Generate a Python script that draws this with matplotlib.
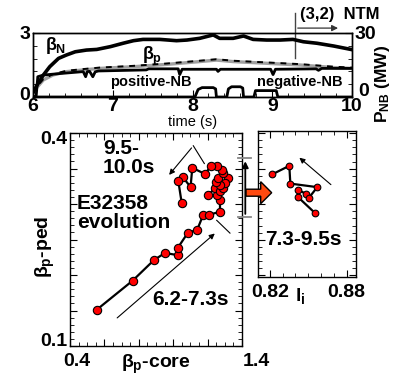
import matplotlib
matplotlib.use("Agg")
import matplotlib.pyplot as plt
import numpy as np
from matplotlib.ticker import MultipleLocator
from matplotlib.transforms import ScaledTranslation
from matplotlib.patches import FancyArrow

plt.rcParams['font.family'] = ['Liberation Sans', 'DejaVu Sans']
plt.rcParams['font.weight'] = 'bold'
plt.rcParams['mathtext.fontset'] = 'custom'
plt.rcParams['mathtext.rm'] = 'Liberation Sans:bold'
plt.rcParams['mathtext.it'] = 'Liberation Sans:bold'
plt.rcParams['mathtext.bf'] = 'Liberation Sans:bold'
plt.rcParams['axes.linewidth'] = 1.0

# ---------------- data: time traces ----------------
betaN_t = [6.0, 6.05, 6.13, 6.21, 6.32, 6.42, 6.53, 6.67, 6.80, 6.97, 7.13, 7.26, 7.38,
           7.59, 7.80, 7.93, 8.09, 8.26, 8.34, 8.51, 8.64, 8.76, 8.93, 9.10, 9.26,
           9.39, 9.56, 9.77, 10.0]
betaN = [0.2, 0.55, 1.03, 1.42, 1.81, 1.97, 2.12, 2.20, 2.23, 2.36, 2.52, 2.64, 2.70,
         2.70, 2.64, 2.67, 2.75, 2.91, 2.75, 2.75, 2.86, 2.70, 2.67, 2.67, 2.70,
         2.59, 2.52, 2.39, 2.22]

betap_t = [6.0, 6.05, 6.13, 6.25, 6.42, 6.63, 6.84, 7.26, 7.68, 8.09, 8.30, 8.51,
           8.93, 9.35, 9.77, 10.0]
betap = [0.15, 0.45, 0.80, 1.03, 1.19, 1.27, 1.34, 1.42, 1.53, 1.66, 1.73, 1.66,
         1.58, 1.50, 1.38, 1.34]

pos_nb_t = [6.0, 6.04, 6.06, 6.13, 6.34, 6.63, 6.66, 6.68, 6.71, 6.75, 6.78, 6.82,
            7.42, 7.45, 7.82, 7.84, 7.87, 8.30, 8.32, 8.35, 8.98, 9.01, 9.04, 9.55,
            9.58, 9.62, 10.0]
pos_nb = [0.0, 0.5, 9.5, 10.3, 11.0, 11.9, 9.5, 11.9, 12.0, 9.5, 11.8, 12.2,
          12.7, 13.2, 13.2, 10.5, 13.0, 13.0, 12.0, 13.0, 13.0, 10.5, 13.0, 13.2,
          12.5, 13.4, 13.4]

neg_nb_t = [6.0, 8.03, 8.07, 8.12, 8.26, 8.29, 8.30, 8.43, 8.45, 8.49, 8.60, 8.63,
            8.64, 8.77, 8.79, 9.05, 9.07, 10.0]
neg_nb = [0.0, 0.0, 3.5, 4.4, 4.4, 3.8, 0.0, 0.0, 3.8, 4.8, 4.8, 4.2,
          0.0, 0.0, 3.0, 3.0, 0.0, 0.0]

# ---------------- data: beta_p evolution ----------------
bp_core = [0.555, 0.764, 0.888, 0.952, 1.026, 1.026, 1.084, 1.140, 1.175, 1.210,
           1.272, 1.272, 1.252, 1.204, 1.243, 1.272, 1.292, 1.321, 1.302, 1.272,
           1.248, 1.263, 1.292, 1.283, 1.254, 1.218, 1.187, 1.111, 1.101, 1.055,
           1.030, 1.049]
bp_ped = [0.151, 0.192, 0.221, 0.231, 0.228, 0.238, 0.259, 0.264, 0.285, 0.285,
          0.289, 0.306, 0.312, 0.313, 0.322, 0.318, 0.322, 0.336, 0.329, 0.327,
          0.331, 0.336, 0.343, 0.348, 0.354, 0.354, 0.342, 0.351, 0.324, 0.338,
          0.332, 0.302]

li_vals = [0.8556, 0.8420, 0.8420, 0.8479, 0.8505, 0.8570, 0.8360, 0.8352, 0.8218]
li_ped = [0.287, 0.310, 0.320, 0.315, 0.309, 0.324, 0.329, 0.354, 0.342]

W, H = 397, 385
fig = plt.figure(figsize=(W / 100, H / 100), dpi=100)


def frac(l, t, r, b):
    return [l / W, 1 - b / H, (r - l) / W, (b - t) / H]


def shift(label, dx_px, dy_px):
    label.set_transform(label.get_transform() +
                        ScaledTranslation(dx_px / 100, dy_px / 100, fig.dpi_scale_trans))


# ---------------- top panel ----------------
ax1 = fig.add_axes(frac(33, 33, 352, 97))
ax1.plot(betaN_t, betaN, color='black', lw=2.6, zorder=5)
ax1.plot(betap_t, betap, color='#a0a0a0', lw=2.4, zorder=3)
ax1.plot(betap_t, [v + 0.04 for v in betap], color='black', lw=1.4,
         dashes=(3, 3), zorder=4)
ax1.set_xlim(6, 10)
ax1.set_ylim(0, 3)
ax1.set_xticks([6, 7, 8, 9, 10])
ax1.xaxis.set_minor_locator(MultipleLocator(0.2))
ax1.set_yticks([0, 3])
ax1.yaxis.set_minor_locator(MultipleLocator(0.6))
ax1.tick_params(which='both', direction='in', labelsize=14, pad=1)
ax1.tick_params(which='major', length=5)
ax1.tick_params(which='minor', length=3)
ax1.tick_params(axis='y', pad=2)
ax1.set_xlabel('time (s)', fontsize=10.5, labelpad=0)
shift(ax1.get_yticklabels()[0], 0, 3)

ax2 = ax1.twinx()
ax2.plot(pos_nb_t, pos_nb, color='black', lw=2.0, zorder=5)
ax2.plot(neg_nb_t, neg_nb, color='black', lw=2.0, zorder=5)
ax2.set_ylim(0, 30)
ax2.set_yticks([0, 30])
ax2.yaxis.set_minor_locator(MultipleLocator(6))
ax2.tick_params(which='both', direction='in', labelsize=14, pad=2)
ax2.tick_params(which='major', length=5)
ax2.tick_params(which='minor', length=3)
shift(ax2.get_yticklabels()[0], 3, 8)
ax2.text(1.097, 0.2, r'$P_{NB}$ (MW)', transform=ax2.transAxes, rotation=90,
         ha='center', va='center', fontsize=12.5)

ax1.text(6.15, 2.41, r'$\beta_N$', fontsize=13, ha='left', va='center')
ax1.text(7.49, 1.88, r'$\beta_p$', fontsize=13, ha='center', va='center')
ax1.text(7.48, 0.68, 'positive-NB', fontsize=10.5, ha='center', va='center')
ax1.text(9.34, 0.68, 'negative-NB', fontsize=10.5, ha='center', va='center')
ax1.plot([9.285, 9.285], [1.83, 3.94], color='#444444', lw=1.0, clip_on=False)
ax1.annotate('', xy=(9.86, 3.23), xytext=(9.285, 3.23), annotation_clip=False,
             arrowprops=dict(arrowstyle='-|>', color='#333333', lw=0.9,
                             mutation_scale=9))
ax1.text(9.35, 3.89, '(3,2)  NTM', fontsize=12, ha='left', va='center')

# ---------------- main panel ----------------
ax = fig.add_axes(frac(70, 133, 242, 346))
ax.plot(bp_core, bp_ped, color='black', lw=1.6, marker='o', ms=6,
        mfc='#ff0000', mec='black', mew=0.8, zorder=5)
ax.set_xlim(0.4, 1.4)
ax.set_ylim(0.1, 0.4)
ax.set_xticks(np.arange(0.4, 1.41, 0.2))
ax.set_xticklabels(['0.4', '', '', '', '', '1.4'])
ax.xaxis.set_minor_locator(MultipleLocator(0.05))
ax.set_yticks(np.arange(0.1, 0.401, 0.05))
ax.set_yticklabels(['0.1', '', '', '', '', '', '0.4'])
ax.yaxis.set_minor_locator(MultipleLocator(0.01))
ax.tick_params(which='both', direction='in', top=True, right=True,
               labelsize=14)
ax.tick_params(which='major', length=5, pad=5)
ax.tick_params(which='minor', length=3)
ax.tick_params(axis='y', pad=2)

xl = ax.get_xticklabels()
shift(xl[0], 7, 0)
shift(xl[-1], 14, 0)
yl = ax.get_yticklabels()
shift(yl[0], 0, 7)
shift(yl[-1], 0, -5)

ax.text(0.5, -0.088, r'$\beta_p$-core', transform=ax.transAxes, fontsize=14,
        ha='center', va='center')
ax.text(-0.145, 0.465, r'$\beta_p$-ped', transform=ax.transAxes, fontsize=14,
        ha='center', va='center', rotation=90)

ax.text(0.592, 0.391, '9.5-\n10.0s', fontsize=15, ha='left', va='top',
        linespacing=1.0)
ax.text(0.441, 0.314, 'E32358\nevolution', fontsize=15, ha='left', va='top',
        linespacing=1.0)
ax.text(0.877, 0.165, '6.2-7.3s', fontsize=15, ha='left', va='center')

ax.annotate('', xy=(1.254, 0.261), xytext=(0.662, 0.137),
            arrowprops=dict(arrowstyle='-|>', color='black', lw=0.8,
                            mutation_scale=8))
ax.plot([1.181, 1.117], [0.357, 0.382], color='black', lw=0.8)
ax.annotate('', xy=(0.966, 0.338), xytext=(1.117, 0.382),
            arrowprops=dict(arrowstyle='-|>', color='black', lw=0.8,
                            mutation_scale=8))
ax.plot([1.253, 1.330], [0.277, 0.259], color='black', lw=0.8)

# ---------------- inset panel ----------------
axi = fig.add_axes(frac(258.3, 131, 355.7, 276.7))
axi.plot(li_vals, li_ped, color='black', lw=1.6, marker='o', ms=4.8,
         mfc='#ff0000', mec='black', mew=0.8, zorder=5)
axi.set_xlim(0.811, 0.887)
axi.set_ylim(0.198, 0.403)
axi.set_xticks([0.82, 0.88])
axi.set_xticklabels(['0.82', '0.88'])
axi.xaxis.set_minor_locator(MultipleLocator(0.01))
axi.set_yticks(np.arange(0.2, 0.401, 0.05))
axi.set_yticklabels([])
axi.yaxis.set_minor_locator(MultipleLocator(0.01))
axi.tick_params(which='both', direction='in', top=True, right=True,
                labelsize=14)
axi.tick_params(which='major', length=5, pad=5)
axi.tick_params(which='minor', length=3)
axi.text(0.43, -0.13, r'$l_i$', transform=axi.transAxes, fontsize=14,
         ha='center', va='center')
axi.text(0.8465, 0.251, '7.3-9.5s', fontsize=15, ha='center', va='center')
axi.annotate('', xy=(0.8414, 0.368), xytext=(0.8693, 0.325),
             arrowprops=dict(arrowstyle='-|>', color='black', lw=0.8,
                             mutation_scale=8))

# ---------------- connector symbols (pixel overlay) ----------------
ov = fig.add_axes([0, 0, 1, 1])
ov.set_xlim(0, W)
ov.set_ylim(H, 0)
ov.axis('off')
ov.patch.set_alpha(0)
ov.plot([238, 251], [158.3, 158.3], color='#888888', lw=1.3)
ov.plot([238, 251], [216.7, 216.7], color='#888888', lw=1.3)
ov.annotate('', xy=(245.3, 158.5), xytext=(245.3, 216.7),
            arrowprops=dict(arrowstyle='-|>', color='black', lw=1.3,
                            mutation_scale=9))
ov.add_patch(FancyArrow(246, 192.7, 25.7, 0, width=7, head_width=22,
                        head_length=11, length_includes_head=True,
                        fc='#ff4a10', ec='black', lw=1.0, zorder=6))

fig.savefig('out.png', dpi=100)
